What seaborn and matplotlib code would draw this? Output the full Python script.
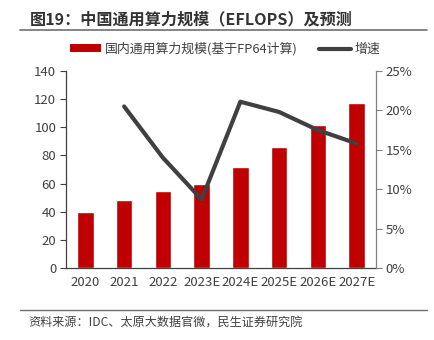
import numpy as np
import pandas as pd
import matplotlib
matplotlib.use("Agg")
import matplotlib.pyplot as plt
from matplotlib.lines import Line2D
from matplotlib.patches import Patch
import seaborn as sns

years = ["2020", "2021", "2022", "2023E", "2024E", "2025E", "2026E", "2027E"]
capacity = [40, 48, 55, 60, 72, 86, 101.5, 117.5]          # EFLOPS
growth_years = ["2021", "2022", "2023E", "2024E", "2025E", "2026E", "2027E"]
growth = [20.5, 14.0, 8.7, 21.1, 19.8, 17.5, 15.8]          # %

bar_label = "国内通用算力规模(基于FP64计算)"
line_label = "增速"
title = "图19：中国通用算力规模（EFLOPS）及预测"
source = "资料来源：IDC、太原大数据官微，民生证券研究院"

sns.set_theme(style="white")
plt.rcParams["font.family"] = ["Noto Sans CJK SC", "DejaVu Sans"]

RED = "#C00000"
DARK = "#404040"
TXT = "#404040"
AX = "#808080"

fig = plt.figure(figsize=(4.34, 3.4), dpi=100)
ax = fig.add_axes([66 / 434, 1 - 268 / 340, (376 - 66) / 434, (268 - 71) / 340])

df = pd.DataFrame({"year": years, "capacity": capacity})
sns.barplot(data=df, x="year", y="capacity", color=RED, width=0.43,
            saturation=1, ax=ax, zorder=2)

ax.set_ylim(0, 140)
ax.set_yticks(np.arange(0, 141, 20))
ax.set_xlim(-0.5, len(years) - 0.5)
ax.set_xlabel("")
ax.set_ylabel("")
ax.set_xticks(np.arange(len(years)))
ax.set_xticklabels(years)
ax.set_xticks(np.arange(len(years) + 1) - 0.5, minor=True)
ax.tick_params(axis="x", which="major", length=0, pad=6, labelsize=9.5, labelcolor=TXT)
ax.tick_params(axis="x", which="minor", length=4, width=0.8, color=DARK, direction="out")
ax.tick_params(axis="y", length=4, width=0.8, color=DARK, direction="out",
               labelsize=9.5, labelcolor=TXT, pad=3, left=True)

for s in ["top", "right"]:
    ax.spines[s].set_visible(False)
ax.spines["left"].set_color(DARK)
ax.spines["bottom"].set_color(DARK)
ax.spines["left"].set_linewidth(0.9)
ax.spines["bottom"].set_linewidth(0.9)

ax2 = ax.twinx()
gpos = [years.index(y) for y in growth_years]
gdf = pd.DataFrame({"pos": gpos, "growth": growth})
sns.lineplot(data=gdf, x="pos", y="growth", color=DARK, linewidth=3, ax=ax2,
             zorder=3)
ax2.set_ylim(0, 25)
ax2.set_yticks(np.arange(0, 26, 5))
ax2.set_yticklabels([f"{v}%" for v in range(0, 26, 5)])
ax2.set_ylabel("")
ax2.set_xlabel("")
ax2.set_xlim(-0.5, len(years) - 0.5)
ax2.tick_params(axis="y", length=4, width=0.8, color=AX, direction="out",
                labelsize=9.5, labelcolor=TXT, pad=3, right=True)
for s in ["top", "left", "bottom"]:
    ax2.spines[s].set_visible(False)
ax2.spines["right"].set_color(AX)
ax2.spines["right"].set_linewidth(0.9)

handles = [Patch(facecolor=RED, edgecolor="none"),
           Line2D([0], [0], color=DARK, linewidth=3)]
fig.legend(handles, [bar_label, line_label], loc="center",
           bbox_to_anchor=(0.518, 1 - 49 / 340), ncol=2, frameon=False,
           fontsize=9.3, handlelength=2.45, handleheight=0.55, columnspacing=1.7,
           handletextpad=0.25, labelcolor=TXT)

fig.text(30 / 434, 1 - 19 / 340, title, fontsize=11.6, fontweight="bold",
         color="#333333", va="center", ha="left")
fig.add_artist(Line2D([20 / 434, 427 / 434], [1 - 30 / 340, 1 - 30 / 340],
                      color="#707070", linewidth=1.2))
fig.add_artist(Line2D([20 / 434, 427 / 434], [1 - 310 / 340, 1 - 310 / 340],
                      color="#707070", linewidth=1.0))
fig.text(28 / 434, 1 - 323 / 340, source, fontsize=8.7, color=TXT,
         va="center", ha="left")

fig.savefig("out.png", dpi=100)
